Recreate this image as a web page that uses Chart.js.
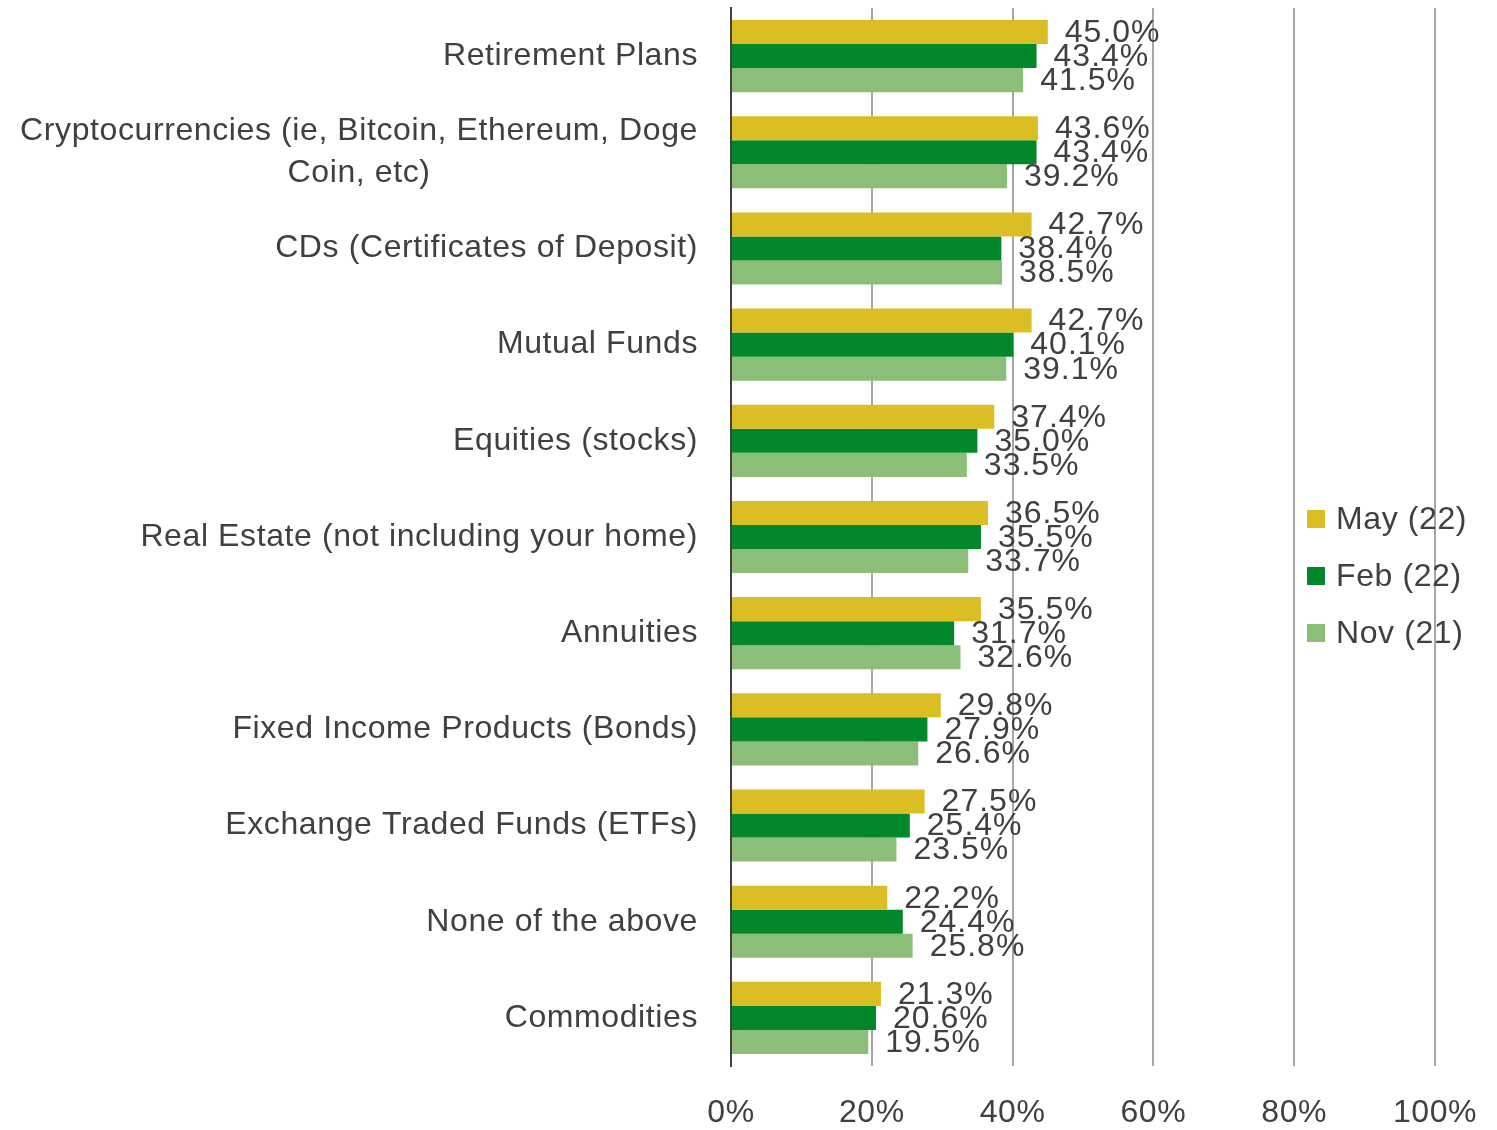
<!DOCTYPE html>
<html>
<head>
<meta charset="utf-8">
<script src="https://cdn.jsdelivr.net/npm/chart.js@4/dist/chart.umd.min.js"></script>
<style>
html,body{margin:0;padding:0;background:#fff;}
#wrap{width:1497px;height:1130px;position:relative;}
</style>
</head>
<body>
<div id="wrap"><canvas id="c" width="1497" height="1130"></canvas></div>
<script>
const categories = [
  "Retirement Plans",
  ["Cryptocurrencies (ie, Bitcoin, Ethereum, Doge", "Coin, etc)"],
  "CDs (Certificates of Deposit)",
  "Mutual Funds",
  "Equities (stocks)",
  "Real Estate (not including your home)",
  "Annuities",
  "Fixed Income Products (Bonds)",
  "Exchange Traded Funds (ETFs)",
  "None of the above",
  "Commodities"
];
const seriesNames = ["May (22)", "Feb (22)", "Nov (21)"];
const may22 = [45.0, 43.6, 42.7, 42.7, 37.4, 36.5, 35.5, 29.8, 27.5, 22.2, 21.3];
const feb22 = [43.4, 43.4, 38.4, 40.1, 35.0, 35.5, 31.7, 27.9, 25.4, 24.4, 20.6];
const nov21 = [41.5, 39.2, 38.5, 39.1, 33.5, 33.7, 32.6, 26.6, 23.5, 25.8, 19.5];
const xTicks = [0, 20, 40, 60, 80, 100];

const colors = ["#DBBE24", "#00882B", "#8BBE78"];
const TEXT = "#404040";
const FONT = '"Liberation Sans", Arial, sans-serif';

const labelPlugin = {
  id: 'customLabels',
  beforeDraw(chart) {
    try { chart.ctx.letterSpacing = '0.6px'; } catch(e) {}
  },
  afterDatasetsDraw(chart) {
    const ctx = chart.ctx;
    ctx.save();
    ctx.font = '32px ' + FONT;
    ctx.fillStyle = TEXT;
    ctx.textAlign = 'left';
    ctx.textBaseline = 'middle';
    try { ctx.letterSpacing = '1px'; } catch(e) {}
    chart.data.datasets.forEach((ds, di) => {
      const meta = chart.getDatasetMeta(di);
      meta.data.forEach((el, i) => {
        ctx.fillText(ds.data[i].toFixed(1) + '%', el.x + 17, el.y + 1);
      });
    });
    ctx.restore();
  },
  afterDraw(chart) {
    const ctx = chart.ctx;
    const ys = chart.scales.y;
    ctx.save();
    ctx.font = '32px ' + FONT;
    ctx.fillStyle = TEXT;
    ctx.textBaseline = 'middle';
    try { ctx.letterSpacing = '0.6px'; } catch(e) {}
    const right = 698;
    const lh = 42;
    categories.forEach((c, i) => {
      const y = ys.getPixelForValue(i);
      if (Array.isArray(c)) {
        const widths = c.map(t => ctx.measureText(t).width);
        const w = Math.max(...widths);
        const cx = right - w / 2;
        ctx.textAlign = 'center';
        c.forEach((t, k) => {
          ctx.fillText(t, cx, y + (k - (c.length - 1) / 2) * lh);
        });
      } else {
        ctx.textAlign = 'right';
        ctx.fillText(c, right, y);
      }
    });
    // legend
    ctx.textAlign = 'left';
    const lx = 1307, ly0 = 519, step = 57;
    seriesNames.forEach((n, k) => {
      const y = ly0 + k * step;
      ctx.fillStyle = colors[k];
      ctx.fillRect(lx, y - 9, 18, 18);
      ctx.fillStyle = TEXT;
      ctx.fillText(n, lx + 29, y + 1);
    });
    ctx.restore();
  }
};

new Chart(document.getElementById('c'), {
  type: 'bar',
  data: {
    labels: categories.map(c => Array.isArray(c) ? c.join(' ') : c),
    datasets: [
      { label: seriesNames[0], data: may22, backgroundColor: colors[0] },
      { label: seriesNames[1], data: feb22, backgroundColor: colors[1] },
      { label: seriesNames[2], data: nov21, backgroundColor: colors[2] }
    ]
  },
  options: {
    indexAxis: 'y',
    responsive: false,
    animation: false,
    devicePixelRatio: 1,
    categoryPercentage: 0.75,
    barPercentage: 1.0,
    layout: { padding: { left: 731, right: 62, top: 8, bottom: 0 } },
    plugins: { legend: { display: false }, tooltip: { enabled: false } },
    scales: {
      x: {
        min: 0, max: 100,
        afterBuildTicks(scale) { scale.ticks = xTicks.map(v => ({ value: v })); },
        afterFit(scale) {
          scale.height = 64;
          scale.paddingLeft = 0; scale.paddingRight = 0;
        },
        ticks: {
          callback: v => v + '%',
          color: TEXT,
          font: { family: FONT, size: 32 },
          padding: 28,
          maxRotation: 0,
          autoSkip: false
        },
        grid: { color: '#A6A6A6', lineWidth: 2, drawTicks: false },
        border: { display: false }
      },
      y: {
        ticks: { display: false },
        grid: { display: false, drawTicks: false },
        border: { display: true, color: '#404040', width: 2 },
        afterFit(scale) { scale.width = 0; scale.paddingTop = 0; scale.paddingBottom = 0; }
      }
    }
  },
  plugins: [labelPlugin]
});
</script>
</body>
</html>
